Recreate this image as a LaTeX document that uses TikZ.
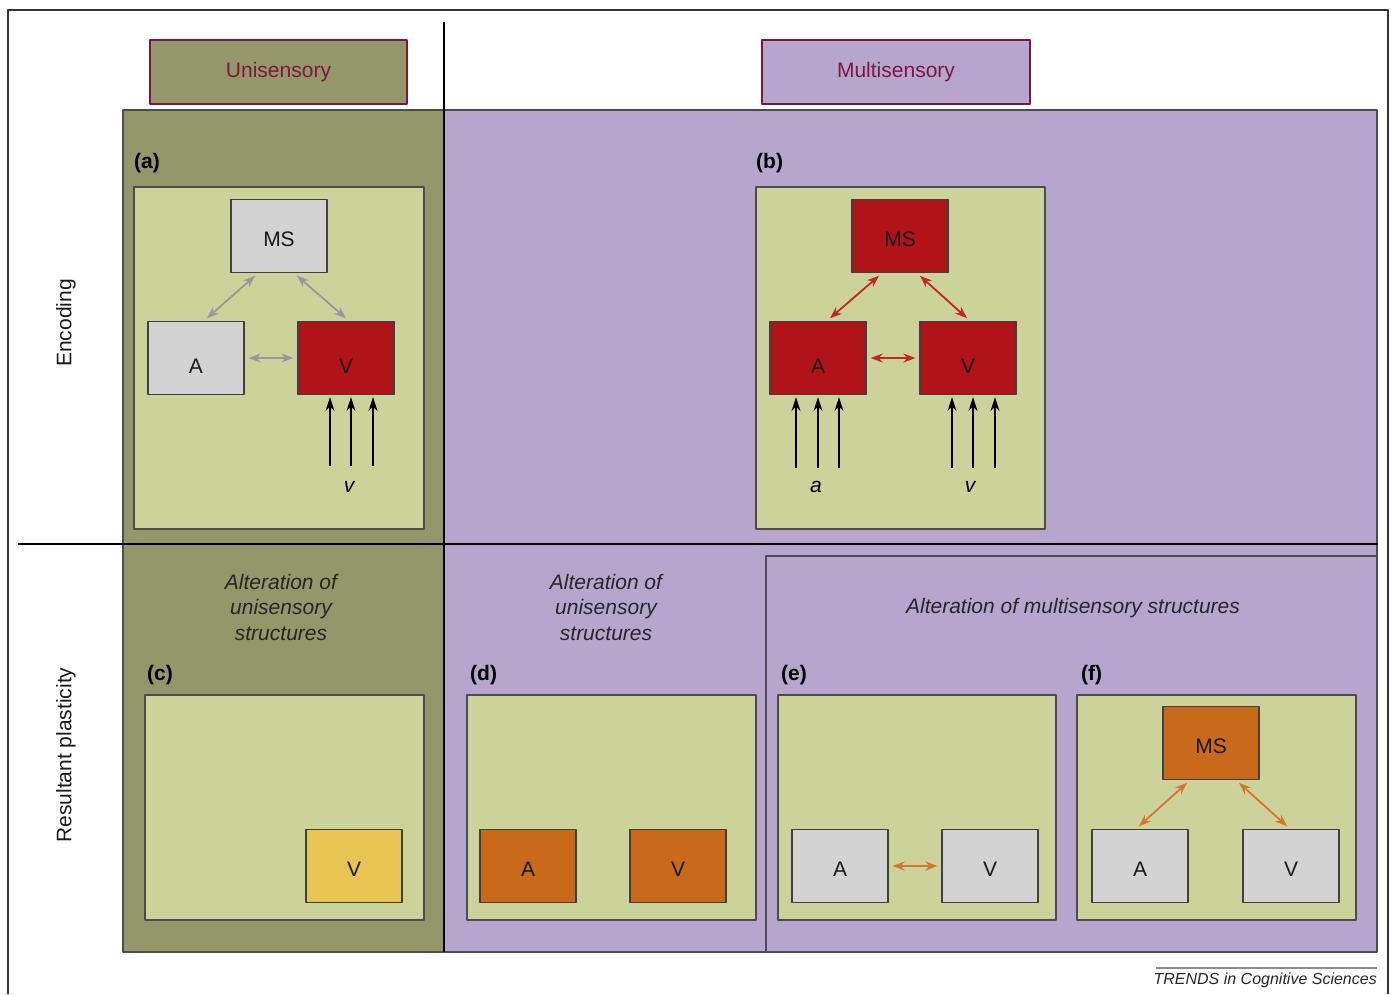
\documentclass[tikz,border=0pt]{standalone}
\usepackage{fontspec}
\setmainfont{Liberation Sans}
\usetikzlibrary{arrows.meta}
\definecolor{uniolive}{HTML}{939769}
\definecolor{multililac}{HTML}{B6A6CD}
\definecolor{panelgreen}{HTML}{CBD39A}
\definecolor{boxgray}{HTML}{D3D3D3}
\definecolor{msred}{HTML}{B01419}
\definecolor{msorange}{HTML}{C96A1B}
\definecolor{msyellow}{HTML}{E8C452}
\definecolor{headmaroon}{HTML}{7B1840}
\definecolor{linkgray}{HTML}{999999}
\definecolor{linkred}{HTML}{C42327}
\definecolor{linkorange}{HTML}{D9742A}

\begin{document}
\begin{tikzpicture}[x=1pt,y=-1pt,line join=round,
  region/.style={draw=black!70,line width=1.3pt},
  panel/.style={draw=black!70,line width=1.3pt,fill=panelgreen},
  unit/.style={draw=black!75,line width=1.3pt,minimum width=96,minimum height=73,inner sep=0pt,text height=21pt,text depth=0pt,text=black!90,font=\fontsize{21}{25}\selectfont},
  sunk/.style={text height=31pt},
  head/.style={draw=headmaroon,line width=1.3pt,minimum width=257,minimum height=64,text height=15pt,text depth=4pt,text=headmaroon,font=\fontsize{21}{25}\selectfont},
  tag/.style={anchor=west,inner sep=0pt,font=\bfseries\fontsize{21}{25}\selectfont},
  note/.style={align=center,text=black!85,font=\itshape\fontsize{21}{25.5}\selectfont},
  side/.style={rotate=90,text=black!90,font=\fontsize{21}{25}\selectfont},
  link/.style={{Stealth[length=12pt,width=9pt]}-{Stealth[length=12pt,width=9pt]},line width=1.8pt,shorten <=4pt,shorten >=4pt},
  input/.style={-{Stealth[length=14pt,width=9pt]},line width=1.5pt,shorten >=2pt}]
\useasboundingbox (0,0) rectangle (1391,994);
% frame and regions
\draw[black!80,line width=1.2pt] (8,994) -- (8,10) -- (1388,10) -- (1388,994);
\draw[region,fill=uniolive] (123,110) rectangle (444,952);
\draw[region,fill=multililac] (444,110) rectangle (1377,952);
\draw[region] (766,952) |- (1377,556);
\draw[line width=1.2pt] (444,22) -- (444,952);
\draw[line width=1.2pt] (18,544) -- (1378,544);

% headers
\node[head,fill=uniolive] (uni) at (278.5,72) {Unisensory};
\node[head,fill=multililac,minimum width=268] (multi) at (896,72) {Multisensory};
\node[side] (enc) at (66,323) {Encoding};
\node[side] (plast) at (66,755) {Resultant plasticity};

% panels
\draw[panel] (134,187) rectangle (424,529);
\draw[panel] (756,187) rectangle (1045,529);
\draw[panel] (145,695) rectangle (424,920);
\draw[panel] (467,695) rectangle (756,920);
\draw[panel] (778,695) rectangle (1056,920);
\draw[panel] (1077,695) rectangle (1356,920);
\node[tag] (ta) at (134,163.5) {(a)};
\node[tag] (tb) at (756,163.5) {(b)};
\node[tag] (tc) at (147,675) {(c)};
\node[tag] (td) at (470,675) {(d)};
\node[tag] (te) at (781,675) {(e)};
\node[tag] (tf) at (1081,675) {(f)};

\node[note] (altc) at (281,607) {Alteration of\\unisensory\\structures};
\node[note] (altd) at (606,607) {Alteration of\\unisensory\\structures};
\node[note] (alte) at (1073,608) {Alteration of multisensory structures};

% (a)
\node[unit,fill=boxgray] (aMS) at (279,236) {MS};
\node[unit,sunk,fill=boxgray] (aA) at (196,358) {A};
\node[unit,sunk,fill=msred] (aV) at (346,358) {V};
\draw[link,linkgray] ([xshift=8]aA.north) -- ([xshift=-21]aMS.south);
\draw[link,linkgray] ([xshift=15]aMS.south) -- ([xshift=3]aV.north);
\draw[link,linkgray] (aA) -- (aV);
\foreach \dx in {-16,5,27}
  \draw[input] ([xshift=\dx,yshift=-71]aV.south) -- ([xshift=\dx]aV.south);
\node[font=\itshape\fontsize{21}{25}\selectfont] (av) at (349,487) {v};

% (b)
\node[unit,fill=msred] (bMS) at (900,236) {MS};
\node[unit,sunk,fill=msred] (bA) at (818,358) {A};
\node[unit,sunk,fill=msred] (bV) at (968,358) {V};
\draw[link,linkred] ([xshift=9]bA.north) -- ([xshift=-18]bMS.south);
\draw[link,linkred] ([xshift=17]bMS.south) -- ([xshift=2]bV.north);
\draw[link,linkred] (bA) -- (bV);
\foreach \dx in {-22,0,21}
  \draw[input] ([xshift=\dx,yshift=-73]bA.south) -- ([xshift=\dx]bA.south);
\foreach \dx in {-16,5,27}
  \draw[input] ([xshift=\dx,yshift=-73]bV.south) -- ([xshift=\dx]bV.south);
\node[font=\itshape\fontsize{21}{25}\selectfont] (ba) at (816,487) {a};
\node[font=\itshape\fontsize{21}{25}\selectfont] (bv) at (970,487) {v};

% (c) and (d)
\node[unit,fill=msyellow] (cV) at (354,866) {V};
\node[unit,fill=msorange] (dA) at (528,866) {A};
\node[unit,fill=msorange] (dV) at (678,866) {V};

% (e)
\node[unit,fill=boxgray] (eA) at (840,866) {A};
\node[unit,fill=boxgray] (eV) at (990,866) {V};
\draw[link,linkorange] (eA) -- (eV);

% (f)
\node[unit,fill=msorange] (fMS) at (1211,743) {MS};
\node[unit,fill=boxgray] (fA) at (1140,866) {A};
\node[unit,fill=boxgray] (fV) at (1291,866) {V};
\draw[link,linkorange] ([xshift=-4]fA.north) -- ([xshift=-21]fMS.south);
\draw[link,linkorange] ([xshift=25]fMS.south) -- ([xshift=-1]fV.north);

% credit
\draw[black!45,line width=1.5pt] (1156,968) -- (1377,968);
\node[anchor=base east,inner sep=0pt,text=black!85,font=\itshape\fontsize{16}{19}\selectfont] (trends) at (1377,984) {TRENDS in Cognitive Sciences};
\end{tikzpicture}
\end{document}
